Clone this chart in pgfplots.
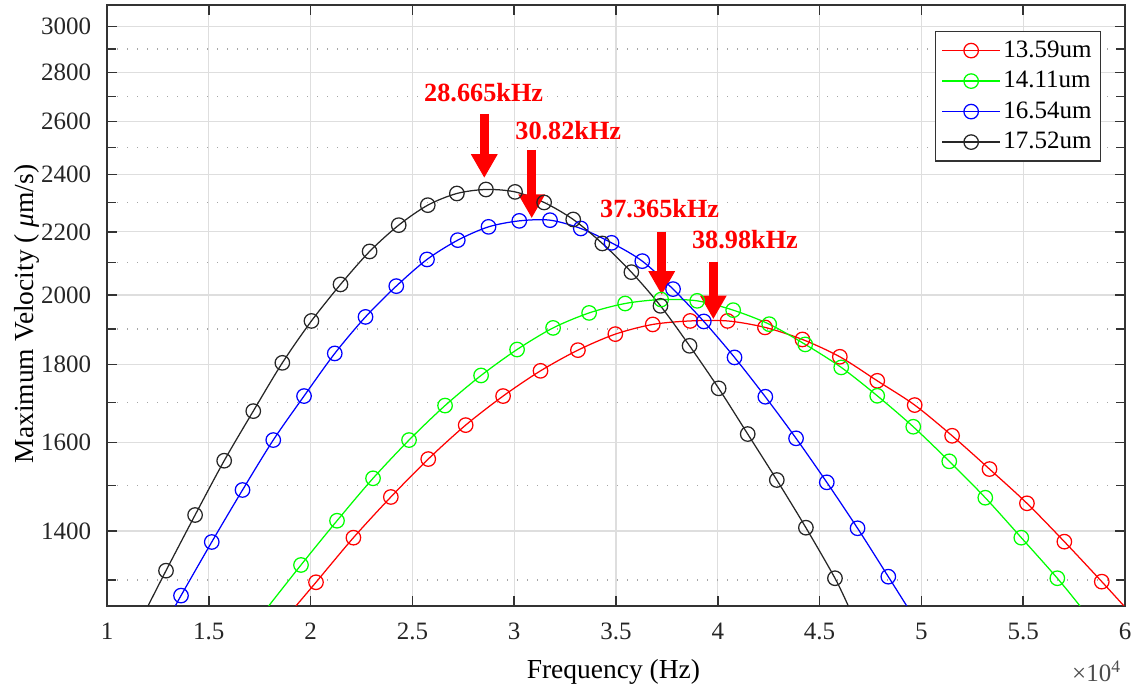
\documentclass[border=0pt]{standalone}
\usepackage{fontspec}
\setmainfont{Liberation Serif}
\usepackage{pgfplots}
\pgfplotsset{compat=1.18}
\usetikzlibrary{arrows.meta,calc}

\begin{document}
\begin{tikzpicture}
\begin{axis}[
  scale only axis, width=407.2pt, height=240.4pt,
  xmin=10000, xmax=60000, ymin=1250, ymax=3100,
  ymode=log,
  xtick={10000,15000,20000,25000,30000,35000,40000,45000,50000,55000,60000},
  scaled x ticks=base 10:-4,
  xtick scale label code/.code={},
  ytick={1400,1600,1800,2000,2200,2400,2600,2800,3000},
  yticklabels={1400,1600,1800,2000,2200,2400,2600,2800,3000},
  minor ytick={1300,1500,1700,1900,2100,2300,2500,2700,2900},
  /pgf/number format/assume math mode=true,
  tick label style={font=\fontsize{10}{12}\selectfont, text=black!85},
  xticklabel style={anchor=base, yshift=-13.6pt},
  yticklabel style={xshift=-2.8pt},
  grid=both,
  major grid style={black!13, line width=0.5pt},
  minor grid style={black!35, line width=0.5pt, dash pattern=on 0.5pt off 3.5pt},
  axis line style={black!80, line width=0.6pt},
  tick style={black!80, line width=0.6pt},
  major tick length=4pt, minor tick length=3.5pt,
  tick align=inside,
  xlabel={Frequency (Hz)},
  ylabel={Maximum Velocity ( \textit{μ}m/s)},
  every axis x label/.style={at={(rel axis cs:0.4975,0)}, anchor=base,
    yshift=-29.2pt, font=\fontsize{11}{13}\selectfont},
  every axis y label/.style={at={(rel axis cs:0,0.486)}, rotate=90,
    anchor=center, yshift=32pt, font=\fontsize{11}{13}\selectfont},
  legend style={at={(rel axis cs:0.9764,0.9567)}, anchor=north east,
    draw=black!80, line width=0.5pt, fill=white, inner xsep=2.5pt, inner ysep=1.5pt,
    row sep=0pt, font=\fontsize{10}{12}\selectfont,
    nodes={inner sep=1pt, text height=7.7pt, text depth=2.5pt},
    cells={anchor=west}},
  legend image code/.code={
    \draw[#1, sharp plot] (0pt,0pt) -- (23.3pt,0pt);
    \draw[#1] plot coordinates {(11.65pt,0pt)};
  },
]
\coordinate (ll) at (rel axis cs:0,0);
\coordinate (ur) at (rel axis cs:1,1);

% ---- 13.59um (red)
\addplot[red, line width=0.5pt, smooth, forget plot] coordinates {
  (19280,1250)(20265,1295.6)(22103,1385.9)(23941,1473.8)(25778,1560.8)(27616,1643.0)
  (29454,1716.6)(31292,1783.4)(33130,1840.1)(34967,1885.1)(36805,1912.9)(38643,1923.3)
  (40481,1923.3)(42319,1904.3)(44156,1870.1)(45994,1821.6)(47832,1756.7)(49670,1693.4)
  (51508,1616.7)(53345,1537.4)(55183,1459.8)(57021,1377.6)(58859,1296.8)(59950,1250)};
\addplot[red, only marks, mark=o, mark size=2.9pt, mark options={line width=0.5pt}] coordinates {
  (20265,1295.6)(22103,1385.9)(23941,1473.8)(25778,1560.8)(27616,1643.0)
  (29454,1716.6)(31292,1783.4)(33130,1840.1)(34967,1885.1)(36805,1912.9)(38643,1923.3)
  (40481,1923.3)(42319,1904.3)(44156,1870.1)(45994,1821.6)(47832,1756.7)(49670,1693.4)
  (51508,1616.7)(53345,1537.4)(55183,1459.8)(57021,1377.6)(58859,1296.8)};

% ---- 14.11um (green)
\addplot[green, line width=0.5pt, smooth, forget plot] coordinates {
  (17940,1250)(19528,1329.9)(21297,1421.9)(23066,1516.0)(24835,1606.2)(26604,1692.1)
  (28373,1771.1)(30141,1842.0)(31910,1903.1)(33679,1946.7)(35448,1974.5)(37217,1986.5)
  (38986,1982.3)(40755,1954.6)(42524,1913.8)(44293,1856.0)(46062,1792.6)(47830,1717.4)
  (49599,1638.8)(51368,1555.4)(53137,1472.2)(54906,1385.9)(56675,1303.5)(57790,1250)};
\addplot[green, only marks, mark=o, mark size=2.9pt, mark options={line width=0.5pt}] coordinates {
  (19528,1329.9)(21297,1421.9)(23066,1516.0)(24835,1606.2)(26604,1692.1)
  (28373,1771.1)(30141,1842.0)(31910,1903.1)(33679,1946.7)(35448,1974.5)(37217,1986.5)
  (38986,1982.3)(40755,1954.6)(42524,1913.8)(44293,1856.0)(46062,1792.6)(47830,1717.4)
  (49599,1638.8)(51368,1555.4)(53137,1472.2)(54906,1385.9)(56675,1303.5)};

% ---- 16.54um (blue)
\addplot[blue, line width=0.5pt, smooth, forget plot] coordinates {
  (13356,1250)(13635,1269.7)(15145,1376.9)(16656,1489.4)(18166,1606.2)(19677,1716.6)
  (21187,1830.9)(22697,1935.0)(24208,2026.8)(25718,2110.2)(27229,2172.6)(28739,2216.7)
  (30249,2236.9)(31760,2239.2)(33270,2211.3)(34781,2163.8)(36291,2104.8)(37801,2017.7)
  (39312,1921.6)(40822,1819.9)(42333,1714.8)(43843,1610.4)(45353,1506.8)(46864,1405.7)
  (48374,1306.6)(49280,1250)};
\addplot[blue, only marks, mark=o, mark size=2.9pt, mark options={line width=0.5pt}] coordinates {
  (13635,1269.7)(15145,1376.9)(16656,1489.4)(18166,1606.2)(19677,1716.6)
  (21187,1830.9)(22697,1935.0)(24208,2026.8)(25718,2110.2)(27229,2172.6)(28739,2216.7)
  (30249,2236.9)(31760,2239.2)(33270,2211.3)(34781,2163.8)(36291,2104.8)(37801,2017.7)
  (39312,1921.6)(40822,1819.9)(42333,1714.8)(43843,1610.4)(45353,1506.8)(46864,1405.7)
  (48374,1306.6)};

% ---- 17.52um (black)
\addplot[black!85, line width=0.5pt, smooth, forget plot] coordinates {
  (12014,1250)(12898,1318.5)(14327,1434.2)(15755,1556.8)(17184,1678.1)(18612,1805.1)
  (20041,1923.3)(21469,2032.0)(22898,2135.8)(24327,2222.4)(25755,2290.5)(27184,2331.3)
  (28612,2345.5)(30041,2337.0)(31469,2299.9)(32898,2241.6)(34327,2161.8)(35755,2070.1)
  (37184,1967.4)(38612,1852.1)(40041,1736.7)(41469,1620.9)(42898,1512.1)(44327,1407.0)
  (45755,1303.5)(46410,1250)};
\addplot[black!85, only marks, mark=o, mark size=2.9pt, mark options={line width=0.5pt}] coordinates {
  (12898,1318.5)(14327,1434.2)(15755,1556.8)(17184,1678.1)(18612,1805.1)
  (20041,1923.3)(21469,2032.0)(22898,2135.8)(24327,2222.4)(25755,2290.5)(27184,2331.3)
  (28612,2345.5)(30041,2337.0)(31469,2299.9)(32898,2241.6)(34327,2161.8)(35755,2070.1)
  (37184,1967.4)(38612,1852.1)(40041,1736.7)(41469,1620.9)(42898,1512.1)(44327,1407.0)
  (45755,1303.5)};

\legend{13.59um,14.11um,16.54um,17.52um}

% ---- peak annotations
\tikzset{pk/.style={red, line width=3.6pt, -{Triangle[width=10pt,length=9.5pt]}},
         pkt/.style={red, anchor=base, inner sep=0pt, font=\bfseries\fontsize{10.5}{12}\selectfont}}
\node[pkt] at (rel axis cs:0.3700,0.8391) {28.665kHz};
\draw[pk] (rel axis cs:0.3706,0.8186) -- (rel axis cs:0.3706,0.7121);
\node[pkt] at (rel axis cs:0.4531,0.7754) {30.82kHz};
\draw[pk] (rel axis cs:0.4172,0.7587) -- (rel axis cs:0.4172,0.6451);
\node[pkt] at (rel axis cs:0.5429,0.6468) {37.365kHz};
\draw[pk] (rel axis cs:0.5449,0.6228) -- (rel axis cs:0.5449,0.5175);
\node[pkt] at (rel axis cs:0.6267,0.5940) {38.98kHz};
\draw[pk] (rel axis cs:0.5956,0.5729) -- (rel axis cs:0.5956,0.4770);
\end{axis}
\node[anchor=base east, inner sep=0pt, font=\fontsize{10}{12}\selectfont, text=black!70]
  at ($(ll -| ur)+(-1.3pt,-30.3pt)$) {×10\textsuperscript{4}};
\pgfresetboundingbox
\path ($(ll)+(-42.8pt,-32.8pt)$) rectangle ($(ur)+(3.2pt,2pt)$);
\end{tikzpicture}
\end{document}
